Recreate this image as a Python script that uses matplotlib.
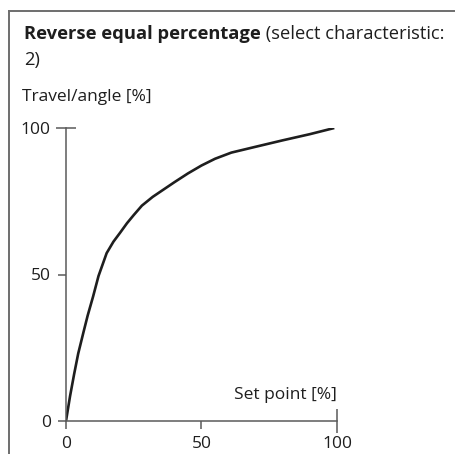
import matplotlib.pyplot as plt
from matplotlib.lines import Line2D

# reverse equal percentage characteristic (set point -> travel)
set_point = [0, 1.5, 3, 4.5, 6.5, 8, 10, 12, 15, 17.5, 20, 22.5, 25, 28, 32,
             36, 40, 45, 50, 55, 61, 70, 80, 90, 99]
travel = [0, 8.5, 16, 23, 30.5, 36, 42.5, 49.5, 57.3, 61.2, 64.3, 67.5, 70.3,
          73.5, 76.5, 79, 81.5, 84.5, 87.2, 89.5, 91.6, 93.6, 95.8, 97.9, 100]

ticks = [0, 50, 100]
tick_labels = ['0', '50', '100']

plt.rcParams['font.family'] = ['Open Sans', 'DejaVu Sans']
ink = '#1e1e1e'
grey = '#5a5a5a'

fig = plt.figure(figsize=(4.56, 4.54), dpi=100)
ax = fig.add_axes([66 / 456, 33 / 454, 271 / 456, 293 / 454])

ax.plot(set_point, travel, color=ink, lw=1.9, solid_capstyle='butt',
        solid_joinstyle='round')

ax.set_xlim(0, 100)
ax.set_ylim(0, 100)
ax.set_xticks(ticks, tick_labels)
ax.set_yticks(ticks, tick_labels)
for side in ['top', 'right']:
    ax.spines[side].set_visible(False)
for side in ['left', 'bottom']:
    ax.spines[side].set_color(grey)
    ax.spines[side].set_linewidth(1.1)
ax.tick_params(direction='out', length=6, width=1.1, color=grey,
               labelsize=12.5, labelcolor=ink, pad=5)

# end ticks cross the axis line
ax.yaxis.get_major_ticks()[-1].tick1line.set_marker('_')
ax.yaxis.get_major_ticks()[-1].tick1line.set_markersize(15)
ax.xaxis.get_major_ticks()[-1].tick1line.set_marker('|')
ax.xaxis.get_major_ticks()[-1].tick1line.set_markersize(17)

ax.text(100, 6, 'Set point [%]', ha='right', va='bottom', fontsize=12.5, color=ink)

# heading: bold part followed by the regular part on the same baseline
head = fig.text(24 / 456, 1 - 39 / 454, 'Reverse equal percentage', fontsize=13.2,
                fontweight='bold', color=ink, ha='left', va='baseline')
ax.annotate(' (select characteristic:', xy=(1, 0), xycoords=head,
            fontsize=13.2, color=ink, ha='left', va='bottom',
            annotation_clip=False)
fig.text(24 / 456, 1 - 65 / 454, '2)', fontsize=13.2, color=ink, va='baseline')
fig.text(22 / 456, 1 - 101 / 454, 'Travel/angle [%]', fontsize=12.5, color=ink,
         va='baseline')

# frame lines along the top and left edge
fig.add_artist(Line2D([9 / 456, 1], [1 - 11 / 454, 1 - 11 / 454],
                      transform=fig.transFigure, color='#6e6e6e', lw=1.4))
fig.add_artist(Line2D([9 / 456, 9 / 456], [0, 1 - 11 / 454],
                      transform=fig.transFigure, color='#6e6e6e', lw=1.4))

fig.savefig('out.png', dpi=100)
